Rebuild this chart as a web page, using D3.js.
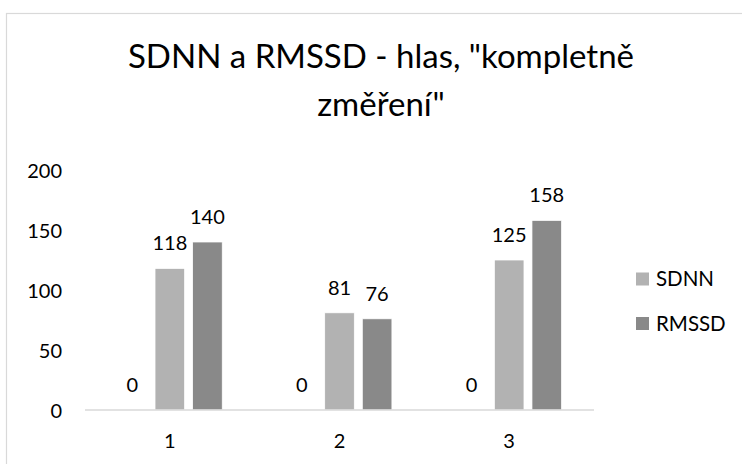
<!DOCTYPE html>
<html>
<head>
<meta charset="utf-8">
<script src="https://cdn.jsdelivr.net/npm/d3@7"></script>
<style>
  html, body { margin: 0; padding: 0; background: #fff; }
  svg { display: block; }
  text { font-family: Lato, "Open Sans", sans-serif; fill: #000; }
</style>
</head>
<body>
<svg id="chart" width="742" height="464"></svg>
<script>
// Measurement groups and series values
const categories = ["1", "2", "3"];
const seriesNames = ["", "SDNN", "RMSSD"];      // first series is an unnamed zero series
const zeroValues = [0, 0, 0];
const sdnnValues = [118, 81, 125];
const rmssdValues = [140, 76, 158];
const yTicks = [0, 50, 100, 150, 200];
const titleLines = ["SDNN a RMSSD - hlas, \"kompletně", "změření\""];

const seriesColors = ["#a5a5a5", "#b2b2b2", "#898989"];
const legendSeries = [1, 2];

const svg = d3.select("#chart");
const W = 742, H = 464;

// Chart frame (only left and top edges fall within the view)
svg.append("rect")
  .attr("x", 6.5).attr("y", 13.5)
  .attr("width", W + 20).attr("height", H + 20)
  .attr("fill", "#fff")
  .attr("stroke", "#d9d9d9").attr("stroke-width", 1.2);

// Title
const title = svg.append("text")
  .attr("text-anchor", "middle")
  .attr("font-size", 33);
titleLines.forEach((line, i) => {
  title.append("tspan")
    .attr("x", 381)
    .attr("y", 68 + i * 48)
    .text(line);
});

const plot = { left: 85, right: 594, top: 170, bottom: 410 };

const y = d3.scaleLinear().domain([0, 200]).range([plot.bottom, plot.top]);
const x0 = d3.scaleBand().domain(categories).range([plot.left, plot.right]).padding(0);

// Excel-like layout: gap width 219%, overlap -27%
const groupW = x0.bandwidth();
const barW = groupW / (3 + 2 * 0.27 + 2.19);
const step = barW * 1.27;

const data = categories.map((c, i) => ({
  cat: c,
  values: [zeroValues[i], sdnnValues[i], rmssdValues[i]]
}));

// Y axis tick labels (no axis line, no gridlines)
const yAxis = d3.axisLeft(y).tickValues(yTicks).tickSize(0).tickPadding(0);
const gy = svg.append("g").attr("transform", `translate(62,0)`).call(yAxis);
gy.select(".domain").remove();
gy.selectAll("text")
  .attr("font-size", 20)
  .attr("font-family", "Lato, 'Open Sans', sans-serif")
  .attr("fill", "#000")
  .attr("dy", "0.36em");

// Bars
const groups = svg.append("g").selectAll("g")
  .data(data).join("g")
  .attr("transform", d => `translate(${x0(d.cat) + groupW / 2},0)`);

groups.selectAll("rect")
  .data(d => d.values.map((v, k) => ({ v, k })))
  .join("rect")
  .attr("x", d => (d.k - 1) * step - barW / 2)
  .attr("y", d => y(d.v))
  .attr("width", barW)
  .attr("height", d => plot.bottom - y(d.v))
  .attr("fill", d => seriesColors[d.k])
  .attr("stroke", "#ffffff")
  .attr("stroke-width", 0.75);

// Value labels
groups.selectAll("text.val")
  .data(d => d.values.map((v, k) => ({ v, k })))
  .join("text")
  .attr("class", "val")
  .attr("x", d => (d.k - 1) * step)
  .attr("y", d => y(d.v) - 18)
  .attr("text-anchor", "middle")
  .attr("font-size", 20)
  .text(d => d.v);

// X axis baseline and category labels
const xAxis = d3.axisBottom(x0).tickSize(0).tickPadding(0);
const gx = svg.append("g").attr("transform", `translate(0,${plot.bottom})`).call(xAxis);
gx.select(".domain")
  .attr("stroke", "#d9d9d9")
  .attr("stroke-width", 1.5)
  .attr("d", `M${plot.left},0H${plot.right}`);
gx.selectAll("text")
  .attr("font-size", 20)
  .attr("font-family", "Lato, 'Open Sans', sans-serif")
  .attr("fill", "#000")
  .attr("dy", null)
  .attr("y", 38);

// Legend
const legend = svg.append("g").selectAll("g")
  .data(legendSeries).join("g")
  .attr("transform", (d, i) => `translate(636,${279 + i * 44.5})`);
legend.append("rect")
  .attr("x", 0).attr("y", -6.5)
  .attr("width", 13).attr("height", 13)
  .attr("fill", d => seriesColors[d]);
legend.append("text")
  .attr("x", 20).attr("y", 0)
  .attr("dy", "0.36em")
  .attr("font-size", 20.5)
  .text(d => seriesNames[d]);
</script>
</body>
</html>
